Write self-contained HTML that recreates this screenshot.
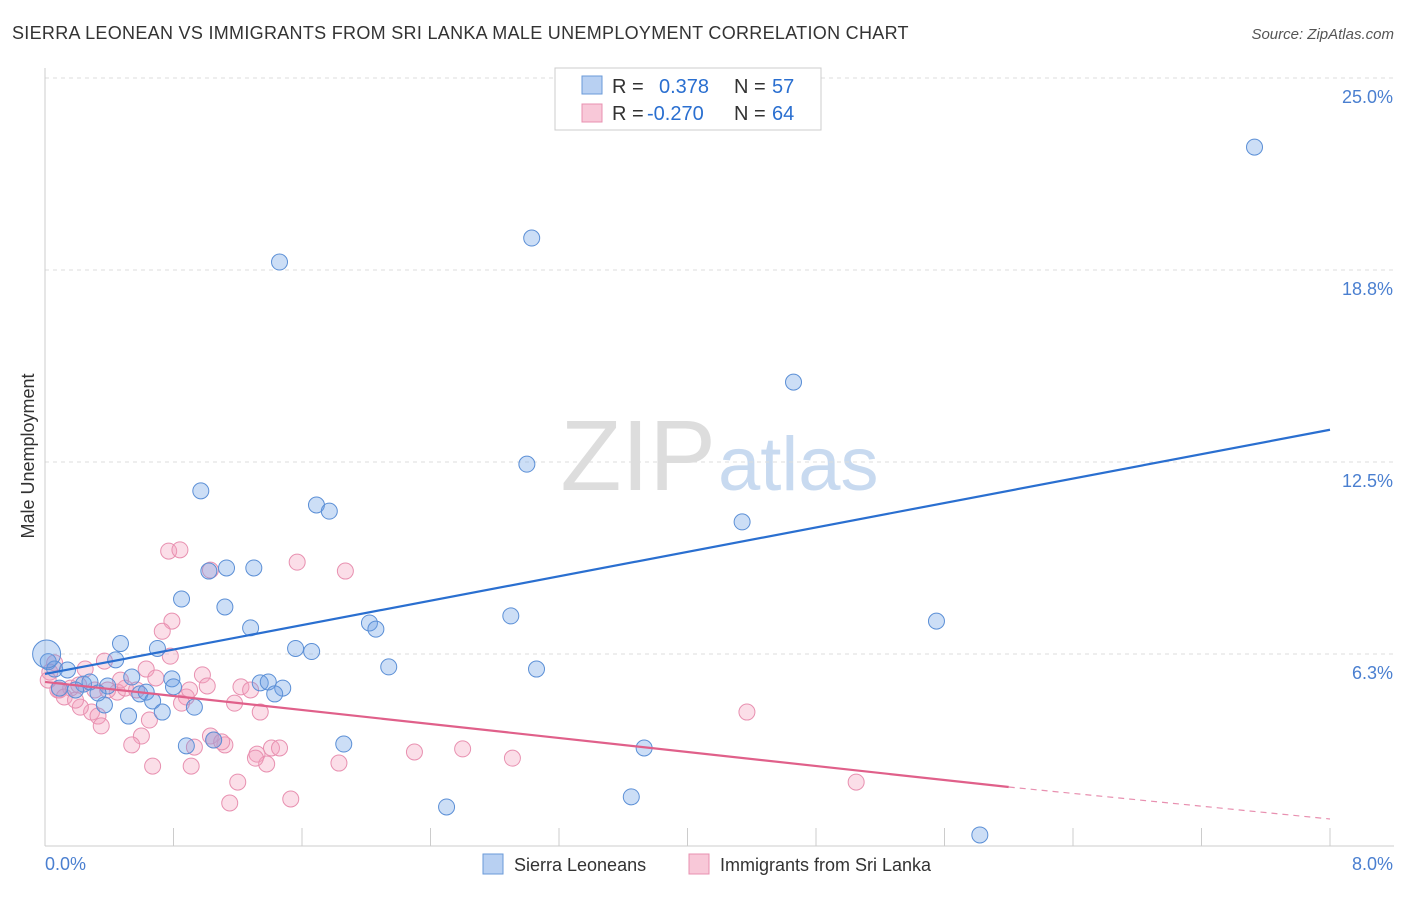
<!DOCTYPE html>
<html><head><meta charset="utf-8"><style>
body{margin:0;background:#fff;font-family:"Liberation Sans",sans-serif;}
svg text{font-family:"Liberation Sans",sans-serif;}
</style></head><body>
<svg id="chart" width="1406" height="892" xmlns="http://www.w3.org/2000/svg">
<text x="12" y="39" font-size="18" letter-spacing="0.3" fill="#333">SIERRA LEONEAN VS IMMIGRANTS FROM SRI LANKA MALE UNEMPLOYMENT CORRELATION CHART</text>
<text x="1394" y="39" font-size="15" fill="#555" text-anchor="end" font-style="italic">Source: ZipAtlas.com</text>
<text x="716" y="490" font-size="100" fill="#ddd" text-anchor="end" font-family="Liberation Serif">ZIP</text>
<text x="718" y="490" font-size="76" fill="#c8daf0">atlas</text>
<g id="grid"></g>
<g id="marks"></g>
<text transform="translate(34,456) rotate(-90)" font-size="18" fill="#333" text-anchor="middle">Male Unemployment</text>
<text x="45" y="870" font-size="18" fill="#4a7fd0">0.0%</text>
<text x="1393" y="870" font-size="18" fill="#4a7fd0" text-anchor="end">8.0%</text>
<g>
<rect x="555" y="68" width="266" height="62" fill="#fff" stroke="#ccc"/>
<rect x="582" y="76" width="20" height="18" fill="#b8d0f2" stroke="#6a9ad8"/>
<rect x="582" y="104" width="20" height="18" fill="#f8c8d8" stroke="#e890b0"/>
<text x="612" y="93" font-size="20" fill="#333">R =</text>
<text x="659" y="93" font-size="20" fill="#2a6fd0">0.378</text>
<text x="734" y="93" font-size="20" fill="#333">N =</text>
<text x="772" y="93" font-size="20" fill="#2a6fd0">57</text>
<text x="612" y="120" font-size="20" fill="#333">R =</text>
<text x="647" y="120" font-size="20" fill="#2a6fd0">-0.270</text>
<text x="734" y="120" font-size="20" fill="#333">N =</text>
<text x="772" y="120" font-size="20" fill="#2a6fd0">64</text>
</g>
<g>
<rect x="483" y="854" width="20" height="20" fill="#b8d0f2" stroke="#6a9ad8"/>
<text x="514" y="871" font-size="18" fill="#333">Sierra Leoneans</text>
<rect x="689" y="854" width="20" height="20" fill="#f8c8d8" stroke="#e890b0"/>
<text x="720" y="871" font-size="18" fill="#333">Immigrants from Sri Lanka</text>
</g>
</svg>
<script>
const yTicks=[6.25,12.5,18.75,25.0];
const yTickLabels=["6.3%","12.5%","18.8%","25.0%"];
const blueX=[7.53,3.03,1.46,4.66,3.0,4.34,0.97,1.69,1.77,5.55,1.13,1.3,1.02,0.85,1.12,1.28,2.02,2.06,2.9,0.47,0.7,1.56,1.66,2.14,3.06,0.02,0.06,0.14,0.44,0.54,0.79,0.8,1.34,1.39,1.48,1.43,0.24,0.28,0.39,0.59,0.63,0.67,0.93,0.37,0.33,0.52,0.73,0.88,1.05,1.86,3.73,2.5,3.65,5.82,0.19,0.09,0.01];
const blueY=[22.75,19.79,19.01,15.1,12.43,10.55,11.56,11.1,10.9,7.32,9.05,9.05,8.95,8.04,7.78,7.1,7.26,7.06,7.49,6.59,6.43,6.43,6.33,5.83,5.76,6.0,5.76,5.73,6.06,5.5,5.44,5.18,5.31,5.34,5.14,4.95,5.27,5.34,5.21,4.95,5.01,4.72,4.52,4.59,4.98,4.23,4.36,3.26,3.45,3.32,3.19,1.27,1.6,0.36,5.08,5.14,6.25];
const pinkX=[0.77,0.84,1.03,1.57,1.87,0.79,0.73,0.37,0.25,0.63,0.98,1.01,1.22,1.28,0.78,0.06,0.03,0.09,0.16,0.21,0.31,0.45,0.5,0.57,0.69,0.88,0.85,1.18,1.34,4.37,0.29,0.33,0.35,0.22,0.65,0.6,0.54,0.93,1.03,1.12,1.05,1.32,1.41,1.46,1.38,1.31,2.3,2.6,2.91,1.83,0.67,0.91,1.2,1.15,1.53,5.05,0.08,0.12,0.47,0.39,0.19,0.02,0.9,1.1];
const pinkY=[9.6,9.64,8.98,9.24,8.95,7.32,6.99,6.02,5.76,5.76,5.57,5.21,5.18,5.08,6.18,5.96,5.66,5.08,5.14,5.24,5.08,5.01,5.14,5.08,5.47,4.85,4.65,4.65,4.36,4.36,4.36,4.23,3.91,4.52,4.1,3.58,3.29,3.22,3.58,3.29,3.45,2.99,3.19,3.19,2.67,2.86,3.06,3.16,2.86,2.7,2.6,2.6,2.08,1.4,1.53,2.08,5.08,4.85,5.4,5.08,4.75,5.4,5.08,3.39];
const blueLine=[[0,5.6],[8,13.55]];
const pinkLine=[[0,5.34],[6,1.92]];
const pinkDash=[[6,1.92],[8,0.88]];
const X0=45,X1=1330,Y0=846,YPX=192/6.25;
function sx(v){return X0+(X1-X0)*v/8;}
function sy(v){return Y0-v*YPX;}
const NS="http://www.w3.org/2000/svg";
function mk(t,a,p){const e=document.createElementNS(NS,t);for(const k in a)e.setAttribute(k,a[k]);p.appendChild(e);return e;}
const grid=document.getElementById('grid'),marks=document.getElementById('marks');
yTicks.forEach((t,i)=>{
 const y=sy(t);
 const l=mk('line',{x1:45,x2:1394,y1:y,y2:y,stroke:'#ddd','stroke-dasharray':'4,4'},grid);
 
 
 const tx=mk('text',{x:1393,y:y+25,'font-size':18,fill:'#4a7fd0','text-anchor':'end'},grid);
 tx.textContent=yTickLabels[i];
 
 
});
const ax=mk('line',{x1:45,x2:1394,y1:846,y2:846,stroke:'#ccc'},grid);


const ay=mk('line',{x1:45,x2:45,y1:68,y2:846,stroke:'#ccc'},grid);


for(let i=1;i<=10;i++){const x=sx(i*0.8);const t=mk('line',{x1:x,x2:x,y1:828,y2:846,stroke:'#ccc'},grid);
 
 }
function dots(xs,ys,fill,stroke,name){xs.forEach((v,i)=>{
 const r=(name==='blue-point'&&i===xs.length-1)?14:8;
 const c=mk('circle',{cx:sx(v),cy:sy(ys[i]),r:r,fill:fill,stroke:stroke,'stroke-width':1},marks);
 
 });}
dots(pinkX,pinkY,'rgba(244,160,190,0.35)','#e890b0','pink-point');
dots(blueX,blueY,'rgba(110,160,230,0.35)','#5b8fd6','blue-point');
function line(pts,st,w,d,name){const l=mk('line',{x1:sx(pts[0][0]),y1:sy(pts[0][1]),x2:sx(pts[1][0]),y2:sy(pts[1][1]),stroke:st,'stroke-width':w},marks);
 if(d)l.setAttribute('stroke-dasharray',d);
 
 }
line(blueLine,'#2a6fd0',2.2,null,'blue-trendline');
line(pinkLine,'#e0608a',2.2,null,'pink-trendline');
line(pinkDash,'#e890b0',1.2,'6,5','pink-trendline-extension');
</script>
</body></html>
